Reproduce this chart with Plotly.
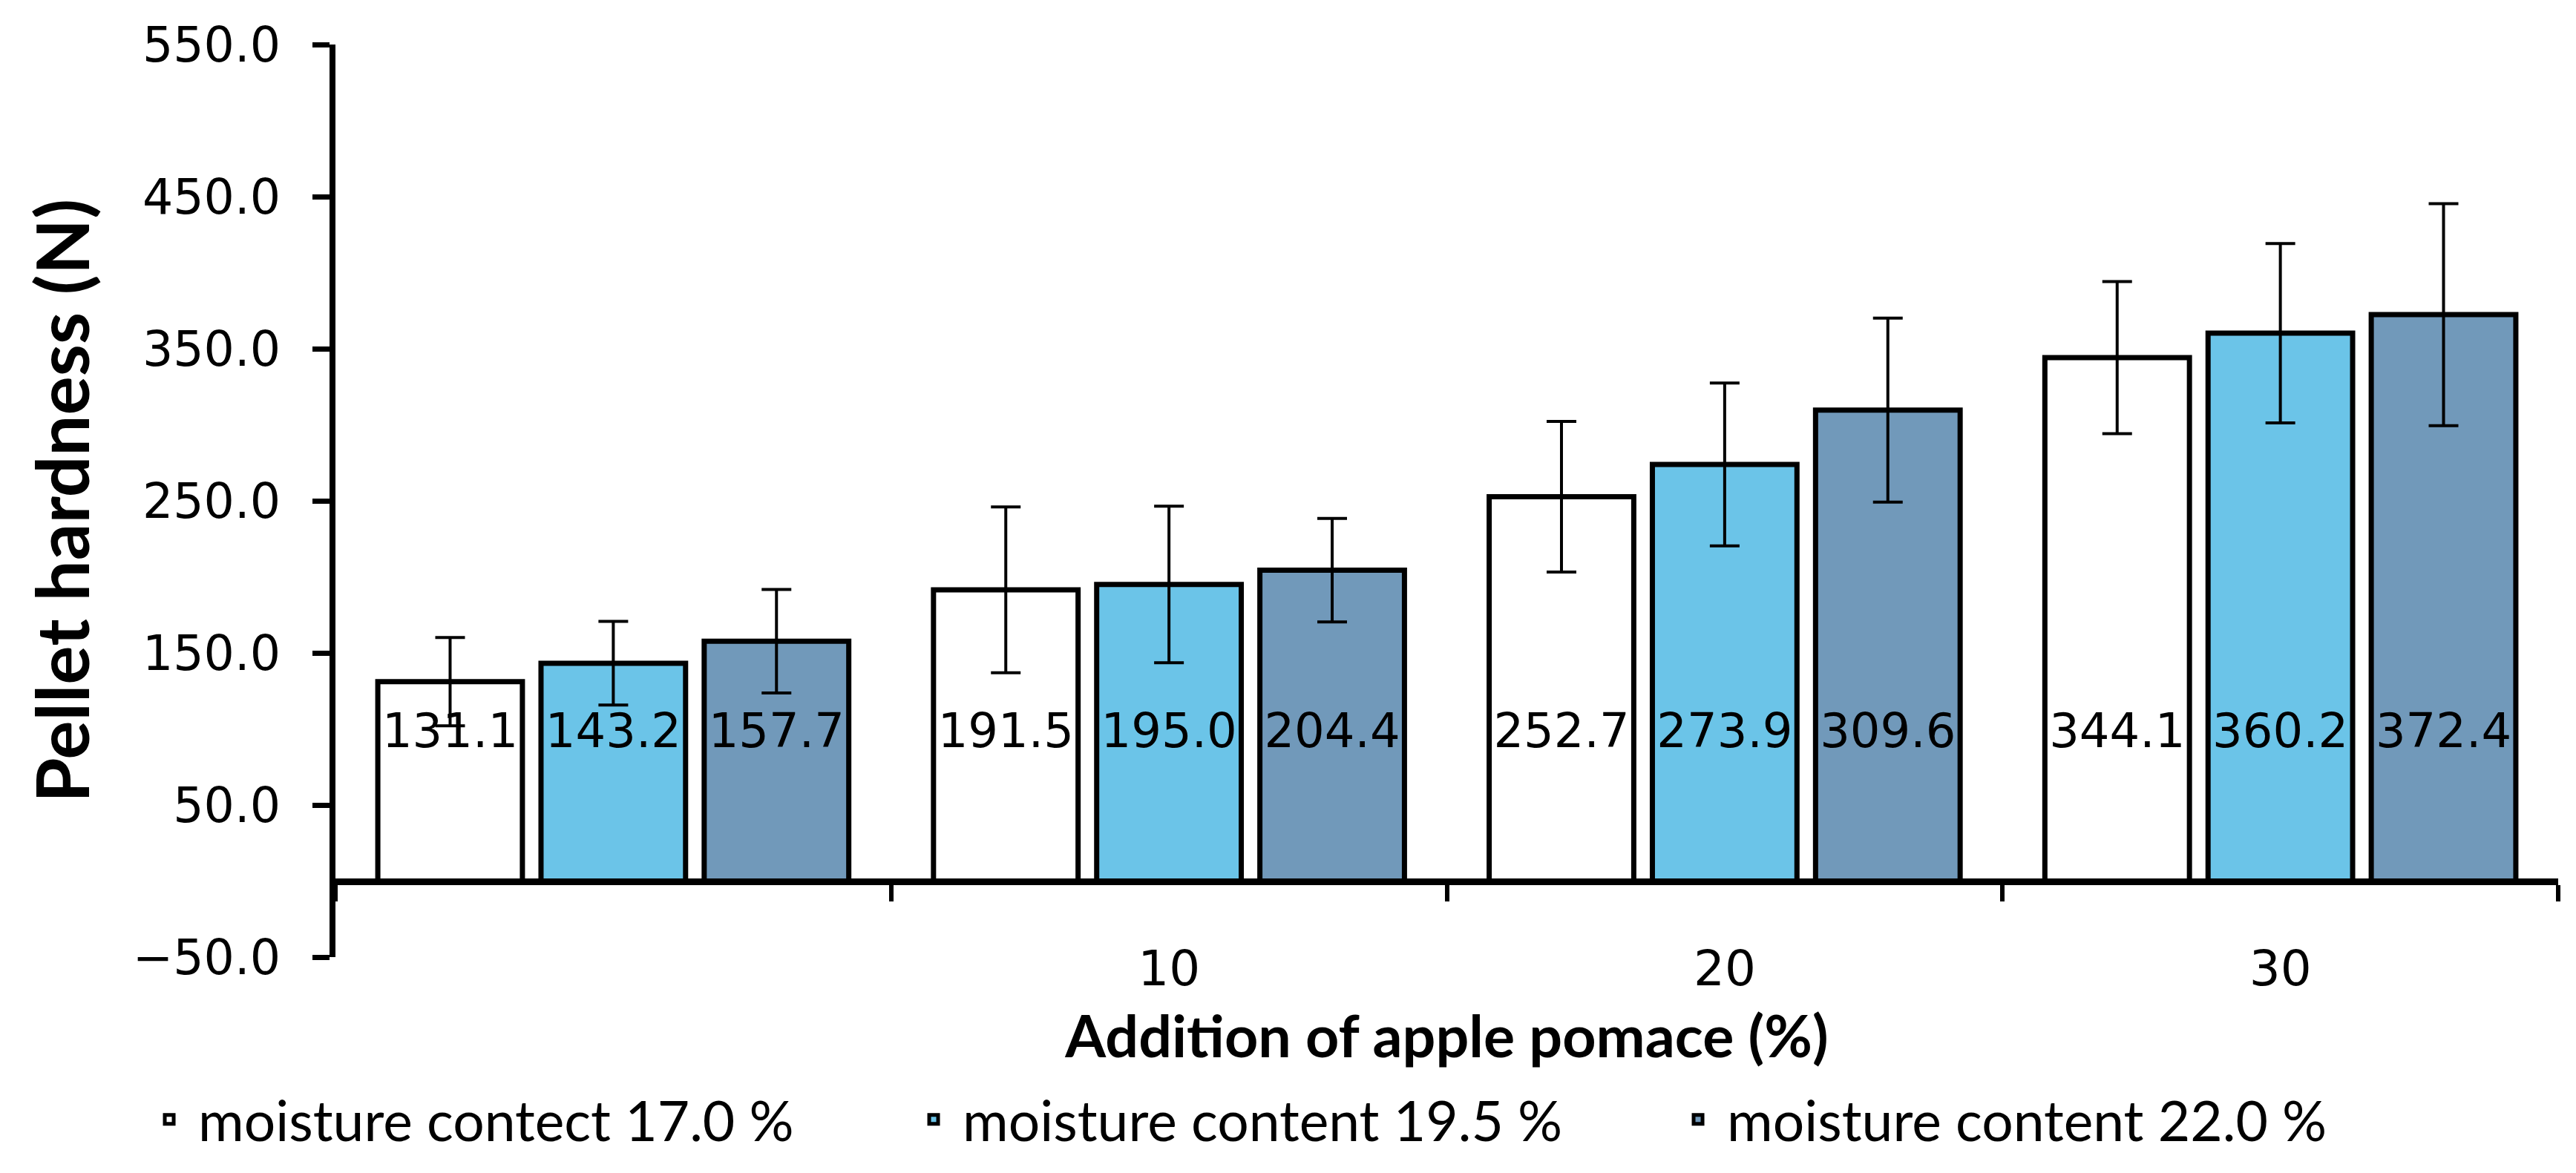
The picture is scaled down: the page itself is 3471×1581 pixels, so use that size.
import plotly.graph_objects as go

# ---- data ----
categories = ["0", "10", "20", "30"]
tick_text = ["", "10", "20", "30"]
series_names = ["moisture contect 17.0 %", "moisture content 19.5 %", "moisture content 22.0 %"]
hardness_170 = [131.1, 191.5, 252.7, 344.1]
hardness_195 = [143.2, 195.0, 273.9, 360.2]
hardness_220 = [157.7, 204.4, 309.6, 372.4]
err_170 = [29.0, 54.5, 49.5, 50.0]
err_195 = [27.5, 51.5, 53.5, 59.0]
err_220 = [34.0, 34.0, 60.5, 73.0]

# ---- style ----
colors = ["#FFFFFF", "#6BC4E8", "#7199BA"]
LABEL_Y = 96          # height (in axis units) where value labels sit
BARGAP = 0.119
W, H = 3471, 1581

fig = go.Figure()
values = [hardness_170, hardness_195, hardness_220]
errors = [err_170, err_195, err_220]
for i, (name, vals, errs) in enumerate(zip(series_names, values, errors)):
    fig.add_trace(go.Bar(
        x=categories, y=vals, name=name, offsetgroup=f"g{i}",
        marker=dict(color=colors[i], line=dict(color="black", width=7)),
        error_y=dict(type="data", array=errs, visible=True, color="black",
                     thickness=4, width=20),
        hoverinfo="x+y",
    ))
for i, vals in enumerate(values):
    fig.add_trace(go.Scatter(
        x=categories, y=[LABEL_Y] * len(vals), mode="text", offsetgroup=f"g{i}",
        text=[f"{v:.1f}" for v in vals], textposition="middle center",
        textfont=dict(family="DejaVu Sans", size=64, color="black"),
        showlegend=False, hoverinfo="skip",
    ))

fig.update_layout(
    width=W, height=H,
    margin=dict(l=452, r=24, t=60, b=291, autoexpand=False),
    paper_bgcolor="white", plot_bgcolor="white",
    barmode="group", bargap=BARGAP, bargroupgap=0.114,
    scattermode="group", scattergap=BARGAP,
    font=dict(family="DejaVu Sans", color="black", size=62),
    showlegend=True,
    legend=dict(orientation="h", xref="paper", yref="paper",
                x=-0.0878, y=-0.178, xanchor="left", yanchor="middle",
                font=dict(family="Lato", size=75, color="black"),
                entrywidth=947, entrywidthmode="pixels",
                itemwidth=68, bgcolor="rgba(0,0,0,0)"),
)
fig.update_xaxes(
    type="category", categoryorder="array", categoryarray=categories,
    range=[-0.5, 3.5], automargin=False,
    tickmode="array", tickvals=categories, ticktext=tick_text,
    anchor="free", position=50 / 600,
    showline=True, linecolor="black", linewidth=9,
    ticks="outside", tickson="boundaries", ticklen=22, tickwidth=6, tickcolor="black",
    ticklabelstandoff=56,
    tickfont=dict(family="DejaVu Sans", size=66, color="black"),
    showgrid=False, zeroline=False,
    title=dict(text="<b>Addition of apple pomace (%)</b>", standoff=26,
               font=dict(family="Lato", size=79, color="black")),
)
fig.update_yaxes(
    range=[-50, 550], tick0=-50, dtick=100, tickformat=".1f", automargin=False,
    showline=True, linecolor="black", linewidth=8,
    ticks="outside", ticklen=23, tickwidth=7, tickcolor="black",
    ticklabelstandoff=30,
    tickfont=dict(family="DejaVu Sans", size=65, color="black"),
    showgrid=False, zeroline=False,
    title=dict(text="<b>Pellet hardness (N)</b>", standoff=28,
               font=dict(family="Lato", size=98, color="black")),
)

fig.write_html("out.html", config={"displayModeBar": False},
               post_script="document.body.style.margin='0';document.body.style.padding='0';")
